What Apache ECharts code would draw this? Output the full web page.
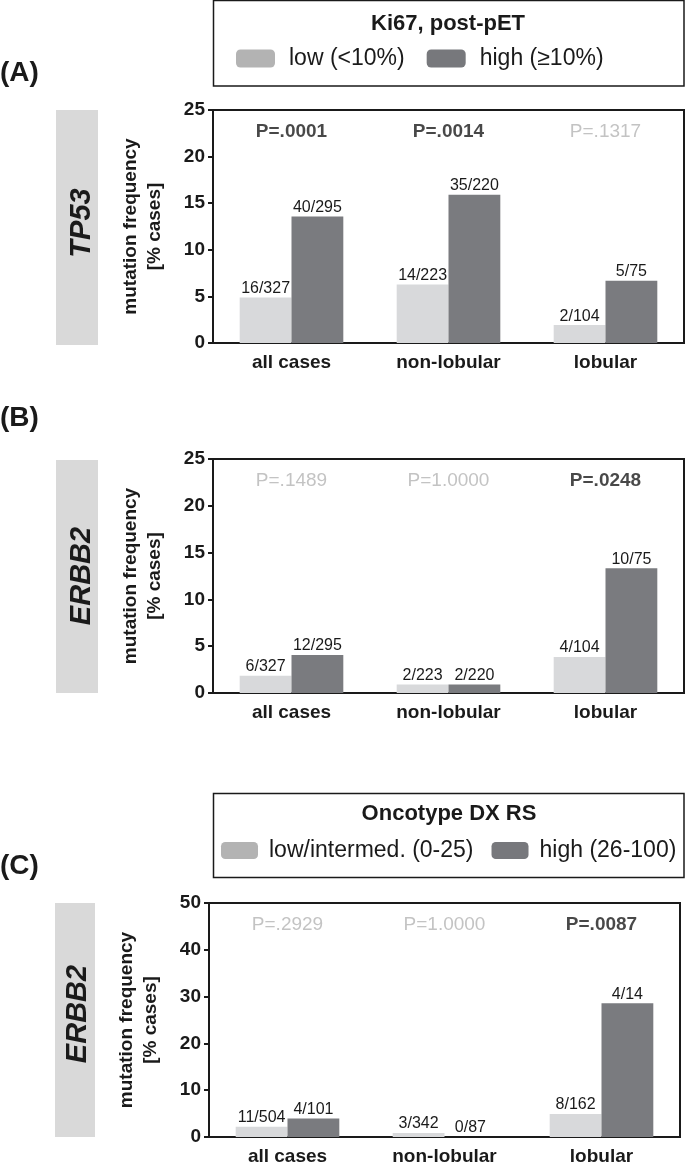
<!DOCTYPE html>
<html><head><meta charset="utf-8">
<script src="https://cdn.jsdelivr.net/npm/echarts@6/dist/echarts.min.js"></script>
<style>html,body{margin:0;padding:0;background:#fff}#c{width:685px;height:1166px}</style>
</head><body><div id="c"></div>
<script>
// ---- data ----
const categories = ['all cases', 'non-lobular', 'lobular'];
const ticksAB = [0, 5, 10, 15, 20, 25];
const ticksC = [0, 10, 20, 30, 40, 50];
const legendKi67 = ['low (<10%)', 'high (≥10%)'];
const legendOnco = ['low/intermed. (0-25)', 'high (26-100)'];

const tp53Low = [4.89, 6.28, 1.92];
const tp53High = [13.56, 15.91, 6.67];
const tp53LowLbl = ['16/327', '14/223', '2/104'];
const tp53HighLbl = ['40/295', '35/220', '5/75'];
const tp53P = ['P=.0001', 'P=.0014', 'P=.1317'];

const erbbLow = [1.83, 0.90, 3.85];
const erbbHigh = [4.07, 0.91, 13.33];
const erbbLowLbl = ['6/327', '2/223', '4/104'];
const erbbHighLbl = ['12/295', '2/220', '10/75'];
const erbbP = ['P=.1489', 'P=1.0000', 'P=.0248'];

const oncoLow = [2.18, 0.88, 4.94];
const oncoHigh = [3.96, 0, 28.57];
const oncoLowLbl = ['11/504', '3/342', '8/162'];
const oncoHighLbl = ['4/101', '0/87', '4/14'];
const oncoP = ['P=.2929', 'P=1.0000', 'P=.0087'];

// ---- styles ----
const FONT = '"Liberation Sans", Arial, Helvetica, sans-serif';
const TXT = '#1a1a1a';
const LIGHT = '#d8d9db';
const DARK = '#7a7b7f';
const LIGHT_SW = '#b3b3b3';
const DARK_SW = '#77787c';
const PGRAY = '#b4b4b4';

const chart = echarts.init(document.getElementById('c'), null, {renderer: 'canvas'});

const grids = [
  {left: 213, top: 110, width: 471, height: 233},
  {left: 213, top: 459, width: 471, height: 234},
  {left: 209, top: 903, width: 471, height: 235}
];

function mkX(i) {
  return {
    type: 'category', gridIndex: i, data: categories,
    axisLine: {lineStyle: {color: TXT, width: 2}},
    axisTick: {alignWithLabel: true, length: 6, lineStyle: {color: TXT, width: 2}},
    axisLabel: {fontFamily: FONT, fontSize: 19, fontWeight: 'bold', color: TXT, margin: 10}
  };
}
function mkY(i, ticks) {
  const step = ticks[1] - ticks[0];
  return {
    type: 'value', gridIndex: i, min: ticks[0], max: ticks[ticks.length - 1], interval: step,
    name: 'mutation frequency\n[% cases]', nameLocation: 'middle', nameRotate: 90, nameGap: 46,
    nameTextStyle: {fontFamily: FONT, fontSize: 19, fontWeight: 'bold', color: TXT, lineHeight: 24},
    axisLine: {show: true, lineStyle: {color: TXT, width: 2}},
    axisTick: {show: true, length: 5, lineStyle: {color: TXT, width: 2}},
    splitLine: {show: false},
    axisLabel: {fontFamily: FONT, fontSize: 19, fontWeight: 'bold', color: TXT, margin: 8}
  };
}
function mkBar(i, name, vals, lbls, color) {
  return {
    type: 'bar', name: name, xAxisIndex: i, yAxisIndex: i, data: vals,
    barGap: '0%', barCategoryGap: '34%',
    itemStyle: {color: color},
    label: {
      show: true, position: 'top', distance: 1,
      fontFamily: FONT, fontSize: 16, color: TXT,
      formatter: p => lbls[p.dataIndex]
    },
    emphasis: {disabled: true},
    animation: false
  };
}
function mkP(i, pvals, ymax) {
  return {
    type: 'scatter', xAxisIndex: i, yAxisIndex: i, symbolSize: 0,
    data: categories.map((c, k) => [c, ymax * 0.905]),
    label: {
      show: true, position: 'inside',
      formatter: p => {
        const s = pvals[p.dataIndex];
        const v = parseFloat(s.replace('P=', ''));
        return v < 0.05 ? '{b|' + s + '}' : '{g|' + s + '}';
      },
      rich: {
        b: {fontFamily: FONT, fontSize: 19, fontWeight: 'bold', color: TXT},
        g: {fontFamily: FONT, fontSize: 19, fontWeight: 'normal', color: PGRAY}
      }
    },
    silent: true, animation: false
  };
}

function sideBox(x, y, w, h, tx, ty, text) {
  return [
    {type: 'rect', shape: {x: x, y: y, width: w, height: h}, style: {fill: '#d9d9d9'}, silent: true},
    {type: 'text', x: tx, y: ty, rotation: Math.PI / 2,
     style: {text: text, fontFamily: FONT, fontSize: 29, fontWeight: 'bold', fontStyle: 'italic',
             fill: TXT, align: 'center', verticalAlign: 'middle'}, silent: true}
  ];
}
function panelTag(y, text) {
  return {type: 'text', x: 0, y: y,
    style: {text: text, fontFamily: FONT, fontSize: 28, fontWeight: 'bold', fill: TXT,
            align: 'left', verticalAlign: 'middle'}, silent: true};
}
function boxTitle(x, y, text) {
  return {type: 'text', x: x, y: y,
    style: {text: text, fontFamily: FONT, fontSize: 22, fontWeight: 'bold', fill: TXT,
            align: 'center', verticalAlign: 'middle'}, silent: true};
}

const option = {
  backgroundColor: '#ffffff',
  animation: false,
  grid: grids.map(g => Object.assign({show: true, borderColor: TXT, borderWidth: 2, backgroundColor: 'transparent'}, g)),
  xAxis: [mkX(0), mkX(1), mkX(2)],
  yAxis: [mkY(0, ticksAB), mkY(1, ticksAB), mkY(2, ticksC)],
  legend: [
    {
      left: 236, top: 47, width: 460, itemWidth: 39, itemHeight: 18, itemGap: 22, selectedMode: false,
      padding: 0,
      data: [
        {name: legendKi67[0], itemStyle: {color: LIGHT_SW}},
        {name: legendKi67[1], itemStyle: {color: DARK_SW}}
      ],
      textStyle: {fontFamily: FONT, fontSize: 23, color: TXT, padding: [0, 0, 0, 9]}
    },
    {
      left: 221, top: 839, width: 480, itemWidth: 37, itemHeight: 17, itemGap: 18, selectedMode: false,
      padding: 0,
      data: [
        {name: legendOnco[0], itemStyle: {color: LIGHT_SW}},
        {name: legendOnco[1], itemStyle: {color: DARK_SW}}
      ],
      textStyle: {fontFamily: FONT, fontSize: 23, color: TXT, padding: [0, 0, 0, 6]}
    }
  ],
  graphic: [
    {type: 'rect', shape: {x: 213.5, y: 0.5, width: 470.5, height: 85.5}, style: {fill: 'none', stroke: TXT, lineWidth: 1.5}, silent: true},
    boxTitle(448, 24, 'Ki67, post-pET'),
    {type: 'rect', shape: {x: 213.5, y: 793.5, width: 470.5, height: 84}, style: {fill: 'none', stroke: TXT, lineWidth: 1.5}, silent: true},
    boxTitle(449, 814, 'Oncotype DX RS'),
    panelTag(73, '(A)'),
    panelTag(418, '(B)'),
    panelTag(866, '(C)'),
    ...sideBox(56, 110, 42, 235, 82, 223, 'TP53'),
    ...sideBox(56, 460, 42, 233, 82, 576, 'ERBB2'),
    ...sideBox(55, 903, 40, 234, 78, 1014, 'ERBB2')
  ],
  series: [
    mkBar(0, legendKi67[0], tp53Low, tp53LowLbl, LIGHT),
    mkBar(0, legendKi67[1], tp53High, tp53HighLbl, DARK),
    mkP(0, tp53P, ticksAB[ticksAB.length - 1]),
    mkBar(1, legendKi67[0], erbbLow, erbbLowLbl, LIGHT),
    mkBar(1, legendKi67[1], erbbHigh, erbbHighLbl, DARK),
    mkP(1, erbbP, ticksAB[ticksAB.length - 1]),
    mkBar(2, legendOnco[0], oncoLow, oncoLowLbl, LIGHT),
    mkBar(2, legendOnco[1], oncoHigh, oncoHighLbl, DARK),
    mkP(2, oncoP, ticksC[ticksC.length - 1])
  ]
};
chart.setOption(option);
</script>
</body></html>
